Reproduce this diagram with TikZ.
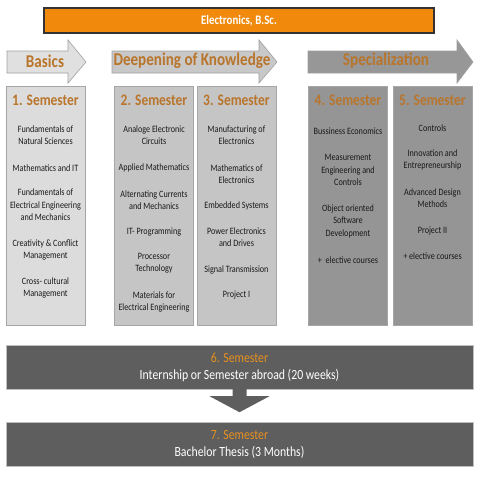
\documentclass[tikz,border=0pt]{standalone}
\usepackage{fontspec}
\setmainfont{Carlito}[FakeStretch=0.84]
\usetikzlibrary{positioning}
\definecolor{titleorange}{HTML}{F18A0C}
\definecolor{headbrown}{HTML}{B9752B}
\definecolor{colA}{HTML}{DCDCDC}
\definecolor{colB}{HTML}{C5C5C5}
\definecolor{colC}{HTML}{959595}
\definecolor{arrA}{HTML}{E0E0E0}
\definecolor{arrB}{HTML}{C8C8C8}
\definecolor{arrC}{HTML}{979797}
\definecolor{bardark}{HTML}{5E5E5E}
\definecolor{barorange}{HTML}{E8901F}

\begin{document}
\begin{tikzpicture}[x=1pt,y=-1pt,
  phase/.style={draw=gray!75, line width=0.6pt},
  phasetext/.style={text=headbrown, font=\bfseries\fontsize{18}{18}\selectfont},
  column/.style={draw=gray!70, line width=0.6pt, minimum width=79pt, minimum height=239pt, inner sep=0pt},
  semhead/.style={text=headbrown, font=\bfseries\fontsize{16}{16}\selectfont},
  course/.style={align=center, text=black!90, font=\fontsize{9.7}{12.5}\selectfont, inner sep=0pt},
  bar/.style={fill=bardark, draw=gray!50, minimum width=467pt, minimum height=44pt, inner sep=0pt, align=center, text=white, font=\fontsize{14}{17}\selectfont}]
  \useasboundingbox (0,0) rectangle (480,480);

  % title bar
  \node[draw=black!80, line width=1.2pt, fill=titleorange, minimum width=390pt, minimum height=25pt, text=white, font=\bfseries\fontsize{13}{13}\selectfont] (title) at (239,20.5) {Electronics, B.Sc.};

  % phase arrows
  \foreach \xa/\xb/\xc/\shade in {7/68/86/arrA, 112/259/277/arrB, 308/457/473/arrC} {
    \draw[phase, fill=\shade] (\xa,51) -- (\xb,51) -- (\xb,40) -- (\xc,62) -- (\xb,83) -- (\xb,73) -- (\xa,73) -- cycle;
  }
  \node[phasetext] (basics) at (45,61) {Basics};
  \node[phasetext] (deepening) at (192,61) {Deepening of Knowledge};
  \node[phasetext] (special) at (386,61) {Specialization};

  % semester columns
  \foreach \n/\cx/\shade in {1/45.5/colA, 2/154/colB, 3/236.5/colB, 4/348/colC, 5/432.5/colC} {
    \node[column, fill=\shade] (col\n) at (\cx,205.5) {};
    \node[semhead] (sem\n) at (\cx,100) {\n. Semester};
  }

  % courses
  \foreach \y/\txt [count=\i] in {135/{Fundamentals of\\Natural Sciences}, 168/{Mathematics and IT}, 205/{Fundamentals of\\Electrical Engineering\\and Mechanics}, 250/{Creativity \& Conflict\\Management}, 288/{Cross- cultural\\Management}}
    \node[course] (c1-\i) at (45.5,\y) {\txt};
  \foreach \y/\txt [count=\i] in {135/{Analoge Electronic\\Circuits}, 168/{Applied Mathematics}, 200/{Alternating Currents\\and Mechanics}, 232/{IT- Programming}, 263/{Processor\\Technology}, 302/{Materials for\\Electrical Engineering}}
    \node[course] (c2-\i) at (154,\y) {\txt};
  \foreach \y/\txt [count=\i] in {135/{Manufacturing of\\Electronics}, 174/{Mathematics of\\Electronics}, 206/{Embedded Systems}, 237/{Power Electronics\\and Drives}, 270/{Signal Transmission}, 295/{Project I}}
    \node[course] (c3-\i) at (236.5,\y) {\txt};
  \foreach \y/\txt [count=\i] in {131/{Bussiness Economics}, 170/{Measurement\\Engineering and\\Controls}, 221/{Object oriented\\Software\\Development}, 260/{+\ \ elective courses}}
    \node[course] (c4-\i) at (348,\y) {\txt};
  \foreach \y/\txt [count=\i] in {128/{Controls}, 160/{Innovation and\\Entrepreneurship}, 198/{Advanced Design\\Methods}, 231/{Project II}, 256/{+ elective courses}}
    \node[course] (c5-\i) at (432.5,\y) {\txt};

  % internship and thesis
  \node[bar] (sem6) at (239.5,367) {\textcolor{barorange}{6. Semester}\\Internship or Semester abroad (20 weeks)};
  \node[bar] (sem7) at (239.5,444) {\textcolor{barorange}{7. Semester}\\Bachelor Thesis (3 Months)};
  \fill[bardark] ([xshift=-7pt]sem6.south) -- ++(0,7) -- ++(-23,0) -- ++(30,16) -- ++(30,-16) -- ++(-23,0) -- ++(0,-7) -- cycle;
\end{tikzpicture}
\end{document}
